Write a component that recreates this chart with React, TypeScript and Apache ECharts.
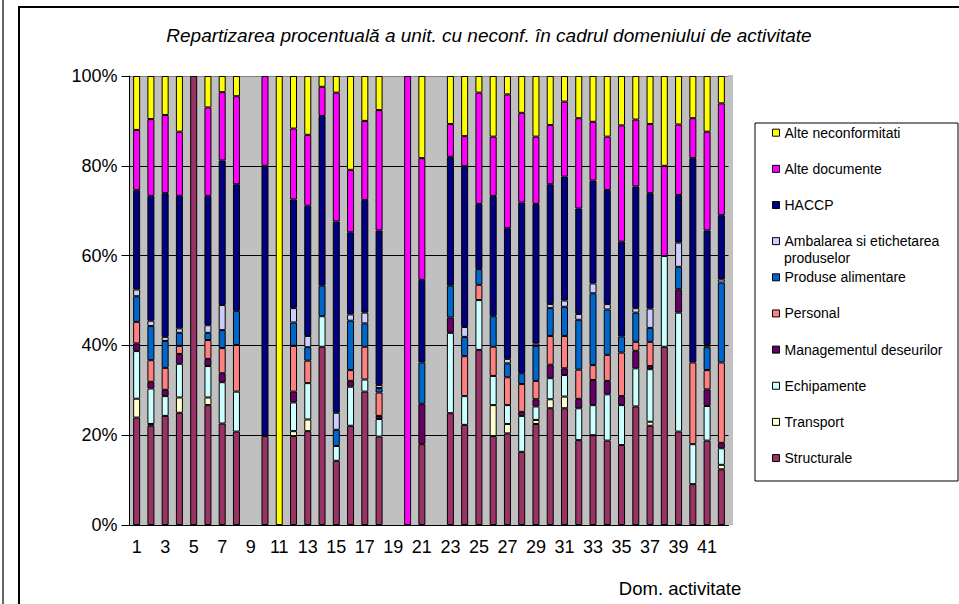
import React, { useEffect, useRef } from "react";
import * as echarts from "echarts";

const categories = ["1","2","3","4","5","6","7","8","9","10","11","12","13","14","15","16","17","18","19","20","21","22","23","24","25","26","27","28","29","30","31","32","33","34","35","36","37","38","39","40","41","42"];

const structurale = [23.9,22.1,24.3,25.0,100,26.7,22.6,20.8,0,19.8,0,19.8,20.9,39.7,14.3,22.1,29.7,19.7,0,0,18.0,0,24.9,22.3,39.0,19.8,20.4,16.3,22.5,26.0,26.0,18.9,20.0,18.8,17.8,26.4,22.1,39.7,20.8,9.1,18.8,12.4];
const transport = [4.2,0.4,0,3.4,0,1.7,0,0,0,0,0,1.1,2.6,0,0,0,0,0,0,0,0,0,0,0,0,6.9,2.1,0,0.9,2.0,2.6,0,0,0,0,0,0.9,0,0,0,0,1.0];
const echipamente = [10.6,7.9,4.4,7.5,0,7.0,9.2,8.9,0,0,0,6.4,8.1,6.8,3.3,8.7,2.7,3.9,0,0,0,0,17.9,6.4,11.1,6.5,4.2,8.0,3.0,4.7,4.8,7.1,6.7,10.3,8.9,8.5,11.7,20.2,26.5,8.9,7.7,3.7];
const managementul = [1.7,1.5,1.4,2.2,0,1.6,2.0,0,0,0,0,2.4,0,0,0,1.3,0,0.7,0,0,9.0,0,3.4,0,0,0,0,0.9,1.6,3.0,1.5,2.1,5.6,3.0,2.0,3.9,0.7,0,5.2,0,3.7,1.2];
const personal = [4.8,4.8,4.9,1.8,0,4.2,5.6,10.4,0,0,0,10.2,5.0,0,0,2.4,7.3,5.2,0,0,0,0,0,8.9,3.4,6.5,6.2,6.2,4.1,6.4,7.2,6.5,3.3,5.8,9.7,2.0,5.4,0,0,18.2,4.3,17.9];
const produse = [5.7,7.6,6.0,2.9,0,1.6,4.0,7.6,0,0,0,5.2,3.0,6.8,3.6,11.0,5.2,1.0,0,0,9.2,0,7.1,4.3,3.5,6.8,3.1,2.4,7.8,6.2,6.5,11.1,16.0,10.1,3.6,6.5,3.1,0,5.0,0,5.1,17.8];
const ambalarea = [1.5,1.2,0.9,1.0,0,1.7,5.6,0,0,0,0,3.2,2.5,0,3.8,1.4,2.4,0.7,0,0,0,0,0,2.2,0,0,1.0,0,0.5,0.9,1.4,1.3,2.2,1.2,0,1.0,4.3,0,5.4,0,0.5,0.7];
const haccp = [22.1,27.8,32.0,29.5,0,28.8,32.2,28.2,0,60.2,0,24.2,29.0,37.8,42.6,18.3,25.1,34.4,0,0,18.4,0,28.7,35.8,14.5,26.8,29.1,38.0,31.1,26.7,27.6,23.5,22.9,25.4,21.1,27.1,25.7,0,10.6,45.5,25.5,14.3];
const alteDocumente = [13.4,17.1,17.4,14.3,0,19.7,15.2,19.6,0,20.0,0,15.8,15.8,6.5,28.7,13.9,17.6,26.8,0,100,27.1,0,7.3,6.7,24.8,13.2,29.8,20.0,15.0,13.2,16.7,20.1,13.1,11.9,25.9,14.9,15.4,20.1,15.7,8.9,22.0,24.9];
const alteNeconformitati = [12.0,9.6,8.7,12.4,0,7.0,3.6,4.5,0,0,100,11.7,13.1,2.4,3.7,20.9,10.0,7.6,0,0,18.3,0,10.7,13.4,3.7,13.5,4.1,8.2,13.5,10.9,5.7,9.4,10.2,13.5,11.0,9.7,10.7,20.0,10.8,9.4,12.4,6.1];

const seriesNames = [
  "Structurale",
  "Transport",
  "Echipamente",
  "Managementul deseurilor",
  "Personal",
  "Produse alimentare",
  "Ambalarea si etichetarea produselor",
  "HACCP",
  "Alte documente",
  "Alte neconformitati",
];
const seriesValues = [structurale, transport, echipamente, managementul, personal, produse, ambalarea, haccp, alteDocumente, alteNeconformitati];
const seriesColors = ["#993366","#FFFFCC","#CCFFFF","#660066","#FF8080","#0066CC","#CCCCFF","#000080","#FF00FF","#FFFF00"];

const yTicks = [0, 20, 40, 60, 80, 100];

const FONT = "'Liberation Sans', Arial, sans-serif";

export default function App() {
  const ref = useRef<HTMLDivElement>(null);
  useEffect(() => {
    if (!ref.current) return;
    const chart = echarts.init(ref.current, undefined, { renderer: "svg" });
    const totals = categories.map((_, i) => seriesValues.reduce((s, arr) => s + arr[i], 0));
    const series = seriesNames.map((name, k) => ({
      name,
      type: "bar",
      stack: "total",
      barWidth: 7,
      itemStyle: { color: seriesColors[k], borderColor: "#000", borderWidth: 1 },
      data: seriesValues[k].map((v, i) => (v > 0 && totals[i] > 0 ? (v / totals[i]) * 100 : null)),
    }));
    const option: any = {
      animation: false,
      backgroundColor: "#ffffff",
      title: {
        text: "Repartizarea procentuală a unit. cu neconf. în cadrul domeniului de activitate",
        left: 489,
        top: 26,
        padding: 0,
        textAlign: "center",
        textStyle: { fontStyle: "italic", fontWeight: "normal", fontSize: 19, fontFamily: FONT, color: "#000" },
      },
      grid: {
        left: 129.5,
        top: 76,
        width: 599,
        height: 449,
        show: true,
        backgroundColor: "#C0C0C0",
        borderWidth: 0,
        outerBoundsMode: "none",
      },
      xAxis: {
        type: "category",
        data: categories,
        axisLine: { lineStyle: { color: "#000", width: 1 } },
        axisTick: { length: 8, lineStyle: { color: "#000" } },
        axisLabel: { interval: 1, fontSize: 18, color: "#000", margin: 13, fontFamily: FONT },
        splitLine: { show: false },
      },
      yAxis: {
        type: "value",
        min: yTicks[0],
        max: yTicks[yTicks.length - 1],
        interval: 20,
        axisLine: { show: true, lineStyle: { color: "#000" } },
        axisTick: { show: true, length: 8, lineStyle: { color: "#000" } },
        axisLabel: { formatter: "{value}%", fontSize: 18, color: "#000", margin: 12, fontFamily: FONT },
        splitLine: { show: true, lineStyle: { color: ["#000", "#000", "#000", "#000", "#000", "#808080"], width: 1 } },
      },
      legend: {
        orient: "vertical",
        left: 772,
        top: 124.7,
        padding: 0,
        itemGap: 20.15,
        itemWidth: 7,
        itemHeight: 7,
        icon: "rect",
        selectedMode: false,
        itemStyle: { borderColor: "#000", borderWidth: 1 },
        textStyle: { fontSize: 14, lineHeight: 16, color: "#000", fontFamily: FONT },
        data: [...seriesNames].reverse(),
        formatter: (name: string) =>
          name === "Ambalarea si etichetarea produselor" ? "Ambalarea si etichetarea" : name,
      },
      graphic: [
        {
          type: "rect",
          z: -10,
          shape: { x: 728, y: 75, width: 5, height: 450 },
          style: { fill: "#C0C0C0" },
        },
        {
          type: "rect",
          shape: { x: 19, y: 7, width: 1000, height: 700 },
          style: { fill: "transparent", stroke: "#000", lineWidth: 2 },
        },
        {
          type: "line",
          shape: { x1: 3, y1: 0, x2: 3, y2: 604 },
          style: { stroke: "#333", lineWidth: 1.5 },
        },
        {
          type: "rect",
          shape: { x: 755, y: 123, width: 203, height: 358 },
          style: { fill: "transparent", stroke: "#000", lineWidth: 1 },
        },
        {
          type: "text",
          x: 784,
          y: 258,
          style: { text: "produselor", fontSize: 14, fontFamily: FONT, fill: "#000", verticalAlign: "middle", align: "left" },
        },
        {
          type: "text",
          x: 680,
          y: 588,
          style: { text: "Dom. activitate", fontSize: 18.5, fontFamily: FONT, fill: "#000", verticalAlign: "middle", align: "center" },
        },
      ],
      series,
    };
    chart.setOption(option);
    return () => chart.dispose();
  }, []);
  return (
    <div
      ref={ref}
      style={{ position: "fixed", left: 0, top: 0, width: 959, height: 604, background: "#fff" }}
    />
  );
}
